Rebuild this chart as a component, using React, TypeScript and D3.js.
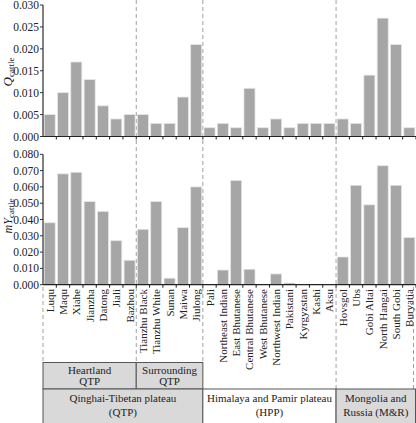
import React from "react";
import * as d3 from "d3";

const categories = [
  "Luqu", "Maqu", "Xiahe", "Jianzha", "Datong", "Jiali", "Bazhou",
  "Tianzhu Black", "Tianzhu White", "Sunan", "Maiwa", "Jiulong",
  "Pali", "Northeast Indian", "East Bhutanese", "Central Bhutanese", "West Bhutanese",
  "Northwest Indian", "Pakistani", "Kyrgyzstan", "Kashi", "Aksu",
  "Hovsgol", "Ubs", "Gobi Altai", "North Hangai", "South Gobi", "Buryatia",
];

const qCattle = [
  0.005, 0.010, 0.017, 0.013, 0.007, 0.004, 0.005,
  0.005, 0.003, 0.003, 0.009, 0.021,
  0.002, 0.003, 0.002, 0.011, 0.002, 0.004, 0.002, 0.003, 0.003, 0.003,
  0.004, 0.003, 0.014, 0.027, 0.021, 0.002,
];

const myCattle = [
  0.038, 0.068, 0.069, 0.051, 0.045, 0.027, 0.015,
  0.034, 0.051, 0.004, 0.035, 0.060,
  0.0, 0.009, 0.064, 0.0095, 0.0, 0.0066, 0.001, 0.0, 0.0, 0.0,
  0.017, 0.061, 0.049, 0.073, 0.061, 0.029,
];

const topTicks = [0, 0.005, 0.01, 0.015, 0.02, 0.025, 0.03];
const bottomTicks = [0, 0.01, 0.02, 0.03, 0.04, 0.05, 0.06, 0.07, 0.08];

const subGroups = [
  { start: 0, end: 7, lines: ["Heartland", "QTP"], fill: "#d9d9d9" },
  { start: 7, end: 12, lines: ["Surrounding", "QTP"], fill: "#d9d9d9" },
];
const mainGroups = [
  { start: 0, end: 12, lines: ["Qinghai-Tibetan plateau", "(QTP)"], fill: "#d9d9d9" },
  { start: 12, end: 22, lines: ["Himalaya and Pamir plateau", "(HPP)"], fill: "#ffffff" },
  { start: 22, end: 28, lines: ["Mongolia and", "Russia (M&R)"], fill: "#d9d9d9" },
];

const FONT = "Liberation Serif";

export default function App() {
  const W = 416, H = 423;
  const x0 = 43, x1 = 416;
  const x = d3.scaleBand<string>().domain(categories).range([x0, x1]).paddingInner(0.17).paddingOuter(0.085);
  const step = (x1 - x0) / categories.length;
  const edge = (i: number) => x0 + i * step;

  const yTop = d3.scaleLinear().domain([0, 0.03]).range([136.5, 5]);
  const yBot = d3.scaleLinear().domain([0, 0.08]).range([284.7, 154.3]);

  const subTop = 362.5, mainTop = 389, boxBottom = 423;

  const fmt = d3.format(".3f");

  const renderPanel = (
    y: d3.ScaleLinear<number, number>,
    values: number[],
    ticks: number[],
    key: string
  ) => {
    const [yb, yt] = y.range();
    return (
      <g key={key}>
        {values.map((v, i) => {
          const bx = x(categories[i])!;
          const h = yb - y(v);
          if (h <= 0.3) return null;
          return (
            <rect key={i} x={bx} y={y(v)} width={x.bandwidth()} height={h}
              fill="#a6a6a6" stroke="#e6e6e6" strokeWidth={0.8} />
          );
        })}
        <line x1={x0} x2={x0} y1={yt} y2={yb} stroke="#808080" strokeWidth={2} />
        {ticks.map((t) => (
          <g key={t}>
            <line x1={x0 - 3} x2={x0} y1={y(t)} y2={y(t)} stroke="#333" strokeWidth={1} />
            <text x={x0 - 4} y={y(t)} dy="0.35em" textAnchor="end" fontSize={11.5} fontFamily={FONT} fill="#222">
              {fmt(t)}
            </text>
          </g>
        ))}
        <line x1={x0} x2={x1} y1={yb} y2={yb} stroke="#222" strokeWidth={1.2} />
        {d3.range(1, categories.length + 1).map((i) => (
          <line key={i} x1={edge(i)} x2={edge(i)} y1={yb} y2={yb + 3} stroke="#222" strokeWidth={1} />
        ))}
      </g>
    );
  };

  const dash = "4,3";
  const dashColor = "#a0a0a0";

  return (
    <svg width={W} height={H} style={{ position: "absolute", left: 0, top: 0, background: "#fff" }}>
      {[7, 12].map((i) => (
        <line key={i} x1={edge(i)} x2={edge(i)} y1={0} y2={subTop} stroke={dashColor} strokeDasharray={dash} strokeWidth={1} />
      ))}
      <line x1={edge(22)} x2={edge(22)} y1={0} y2={mainTop} stroke={dashColor} strokeDasharray={dash} strokeWidth={1} />
      <line x1={x0} x2={x0} y1={287} y2={subTop} stroke={dashColor} strokeDasharray={dash} strokeWidth={1} />
      <line x1={413.5} x2={413.5} y1={287} y2={mainTop} stroke={dashColor} strokeDasharray={dash} strokeWidth={1} />

      {renderPanel(yTop, qCattle, topTicks, "top")}
      {renderPanel(yBot, myCattle, bottomTicks, "bot")}

      <text transform="translate(11.5,72) rotate(-90)" textAnchor="middle" fontSize={13} fontFamily={FONT} fill="#222">
        <tspan fontStyle="italic">Q</tspan>
        <tspan fontSize={9} dy={2.5}>cattle</tspan>
      </text>
      <text transform="translate(11.5,216) rotate(-90)" textAnchor="middle" fontSize={12} fontFamily={FONT} fill="#222">
        <tspan fontStyle="italic">mY</tspan>
        <tspan fontSize={9} dy={2.5}>cattle</tspan>
      </text>

      {categories.map((c) => {
        const cx = x(c)! + x.bandwidth() / 2;
        return (
          <text key={c} transform={`translate(${cx + 4},289) rotate(-90)`} textAnchor="end"
            fontSize={11} fontFamily={FONT} fill="#222">
            {c}
          </text>
        );
      })}

      {subGroups.map((g) => {
        const bx = edge(g.start), bw = edge(g.end) - edge(g.start);
        return (
          <g key={g.lines[0]}>
            <rect x={bx} y={subTop} width={bw} height={mainTop - subTop} fill={g.fill} stroke="#555" strokeWidth={1} />
            {g.lines.map((l, k) => (
              <text key={k} x={bx + bw / 2} y={subTop + 11 + k * 11} textAnchor="middle" fontSize={11} fontFamily={FONT} fill="#222">{l}</text>
            ))}
          </g>
        );
      })}
      {mainGroups.map((g) => {
        const bx = edge(g.start), bw = Math.min(edge(g.end), 415.5) - edge(g.start);
        return (
          <g key={g.lines[0]}>
            <rect x={bx} y={mainTop} width={bw} height={boxBottom - mainTop + 2} fill={g.fill} stroke="#555" strokeWidth={1} />
            {g.lines.map((l, k) => (
              <text key={k} x={bx + bw / 2} y={mainTop + 13 + k * 14} textAnchor="middle" fontSize={11} fontFamily={FONT} fill="#222">{l}</text>
            ))}
          </g>
        );
      })}
    </svg>
  );
}
